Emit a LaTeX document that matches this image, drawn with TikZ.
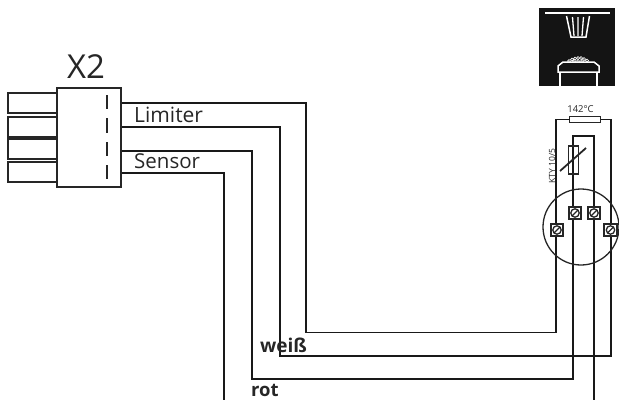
\documentclass[tikz,border=0pt]{standalone}
\usepackage{fontspec}
\setmainfont{Open Sans}
\begin{document}
\begin{tikzpicture}[x=1pt,y=-1pt,
  wire/.style={line width=1.35pt,draw=black!90},
  pinbox/.style={draw=black!85,line width=1.35pt,fill=white,minimum width=49pt,minimum height=20pt,inner sep=0pt,outer sep=0pt},
  lbl/.style={inner sep=0pt,text=black!85},
  term/.style={draw=black!85,line width=1.6pt,fill=white,minimum size=12.5pt,inner sep=0pt,outer sep=0pt}]
\useasboundingbox (0,0) rectangle (619,400);
% free ends
\coordinate (o1) at (120.5,103);
\coordinate (o2) at (120.5,127);
\coordinate (o3) at (120.5,151);
\coordinate (o4) at (120.5,173);
\coordinate (e3) at (594,400);
\coordinate (e4) at (224,400);
% fuse
\node[draw=black!85,line width=1.1pt,fill=white,minimum width=31pt,minimum height=6.5pt,inner sep=0pt,outer sep=0pt] (fuse) at (585,119.3) {};
% wires
\draw[wire] (o1) -- (306,103) -- (306,332.5) -- (556,332.5) -- (556,119.3) -- (fuse.west);
\draw[wire] (o2) -- (280,127) -- (280,356) -- (611,356) -- (611,119.3) -- (fuse.east);
\draw[wire] (o3) -- (252,151) -- (252,379) -- (573,379) -- (573,136) -- (594,136) -- (e3);
\draw[wire] (o4) -- (224,173) -- (e4);
\draw[line width=1.3pt,draw=black!85] (581,227) circle (38);
% resistor
\node[draw=black!85,line width=1.1pt,fill=none,minimum width=10.5pt,minimum height=28pt,inner sep=0pt] (res) at (573.3,160) {};
\draw[line width=1.8pt,draw=black!85] (560,171) -- (586,148);
% terminals
\foreach \n/\x/\y in {ta/575/213,tb/594/213,tc/557/230,td/610.5/230}{
  \node[term] (\n) at (\x,\y) {};
  \draw[line width=1.3pt,draw=black!85] (\n) circle (4.2);
  \draw[line width=1.3pt,draw=black!85] (\x-3,\y+3) -- (\x+3,\y-3);
}
% connector
\foreach \n/\y in {p1/103,p2/127,p3/149,p4/172}{
  \node[pinbox] (\n) at (32.5,\y) {};
}
\node[draw=black!85,line width=1.35pt,fill=white,minimum width=64pt,minimum height=99pt,inner sep=0pt,outer sep=0pt] (x2) at (89,137.5) {};
\foreach \a/\b in {95/109,118/133,142/156,165/179}{
  \draw[line width=1.35pt,draw=black!85] (107,\a) -- (107,\b);
}
\node[lbl,font=\fontsize{33}{33}\selectfont] (tx2) at (86,67) {X2};
\node[lbl,font=\fontsize{21}{21}\selectfont,anchor=west] (tlim) at (134,115) {Limiter};
\node[lbl,font=\fontsize{20.5}{21}\selectfont,anchor=west] (tsen) at (134,161.5) {Sensor};
\node[lbl,font=\bfseries\fontsize{19}{19}\selectfont,anchor=west] (twe) at (260,345) {weiß};
\node[lbl,font=\bfseries\fontsize{18.5}{19}\selectfont,anchor=west] (trot) at (251,390) {rot};
\node[lbl,font=\fontsize{9.5}{9.5}\selectfont,anchor=center] (tt) at (580.5,109.5) {142°C};
\node[lbl,font=\fontsize{8.5}{8.5}\selectfont,rotate=90,anchor=center] (tk) at (552,166) {KTY 10/5};
% icon
\fill[black!92] (539,8) rectangle (615,86);
\draw[white,line width=2.4pt] (545,12.8) -- (610,12.8);
\draw[white,line width=1.5pt] (566.5,16) -- (571,37) -- (586,37) -- (589.5,16);
\draw[white,line width=1.3pt] (572.5,17) -- (574,36) (578,17) -- (578,36) (583.5,17) -- (582,36);
\draw[white,line width=1.5pt] (560,86) -- (560,72) (597,86) -- (597,72);
\draw[white,line width=1.5pt,fill=black!92] (558,72) -- (558,66) -- (563,62) -- (594,62) -- (599,66) -- (599,72) -- cycle;
\foreach \x/\y in {569/61,572/59.5,575/58.5,578/58,581/58,584/59,587/60.5,574/61,578/61,582/61}{
  \draw[white,line width=.7pt] (\x,\y) circle (1.5);
}
\end{tikzpicture}
\end{document}
